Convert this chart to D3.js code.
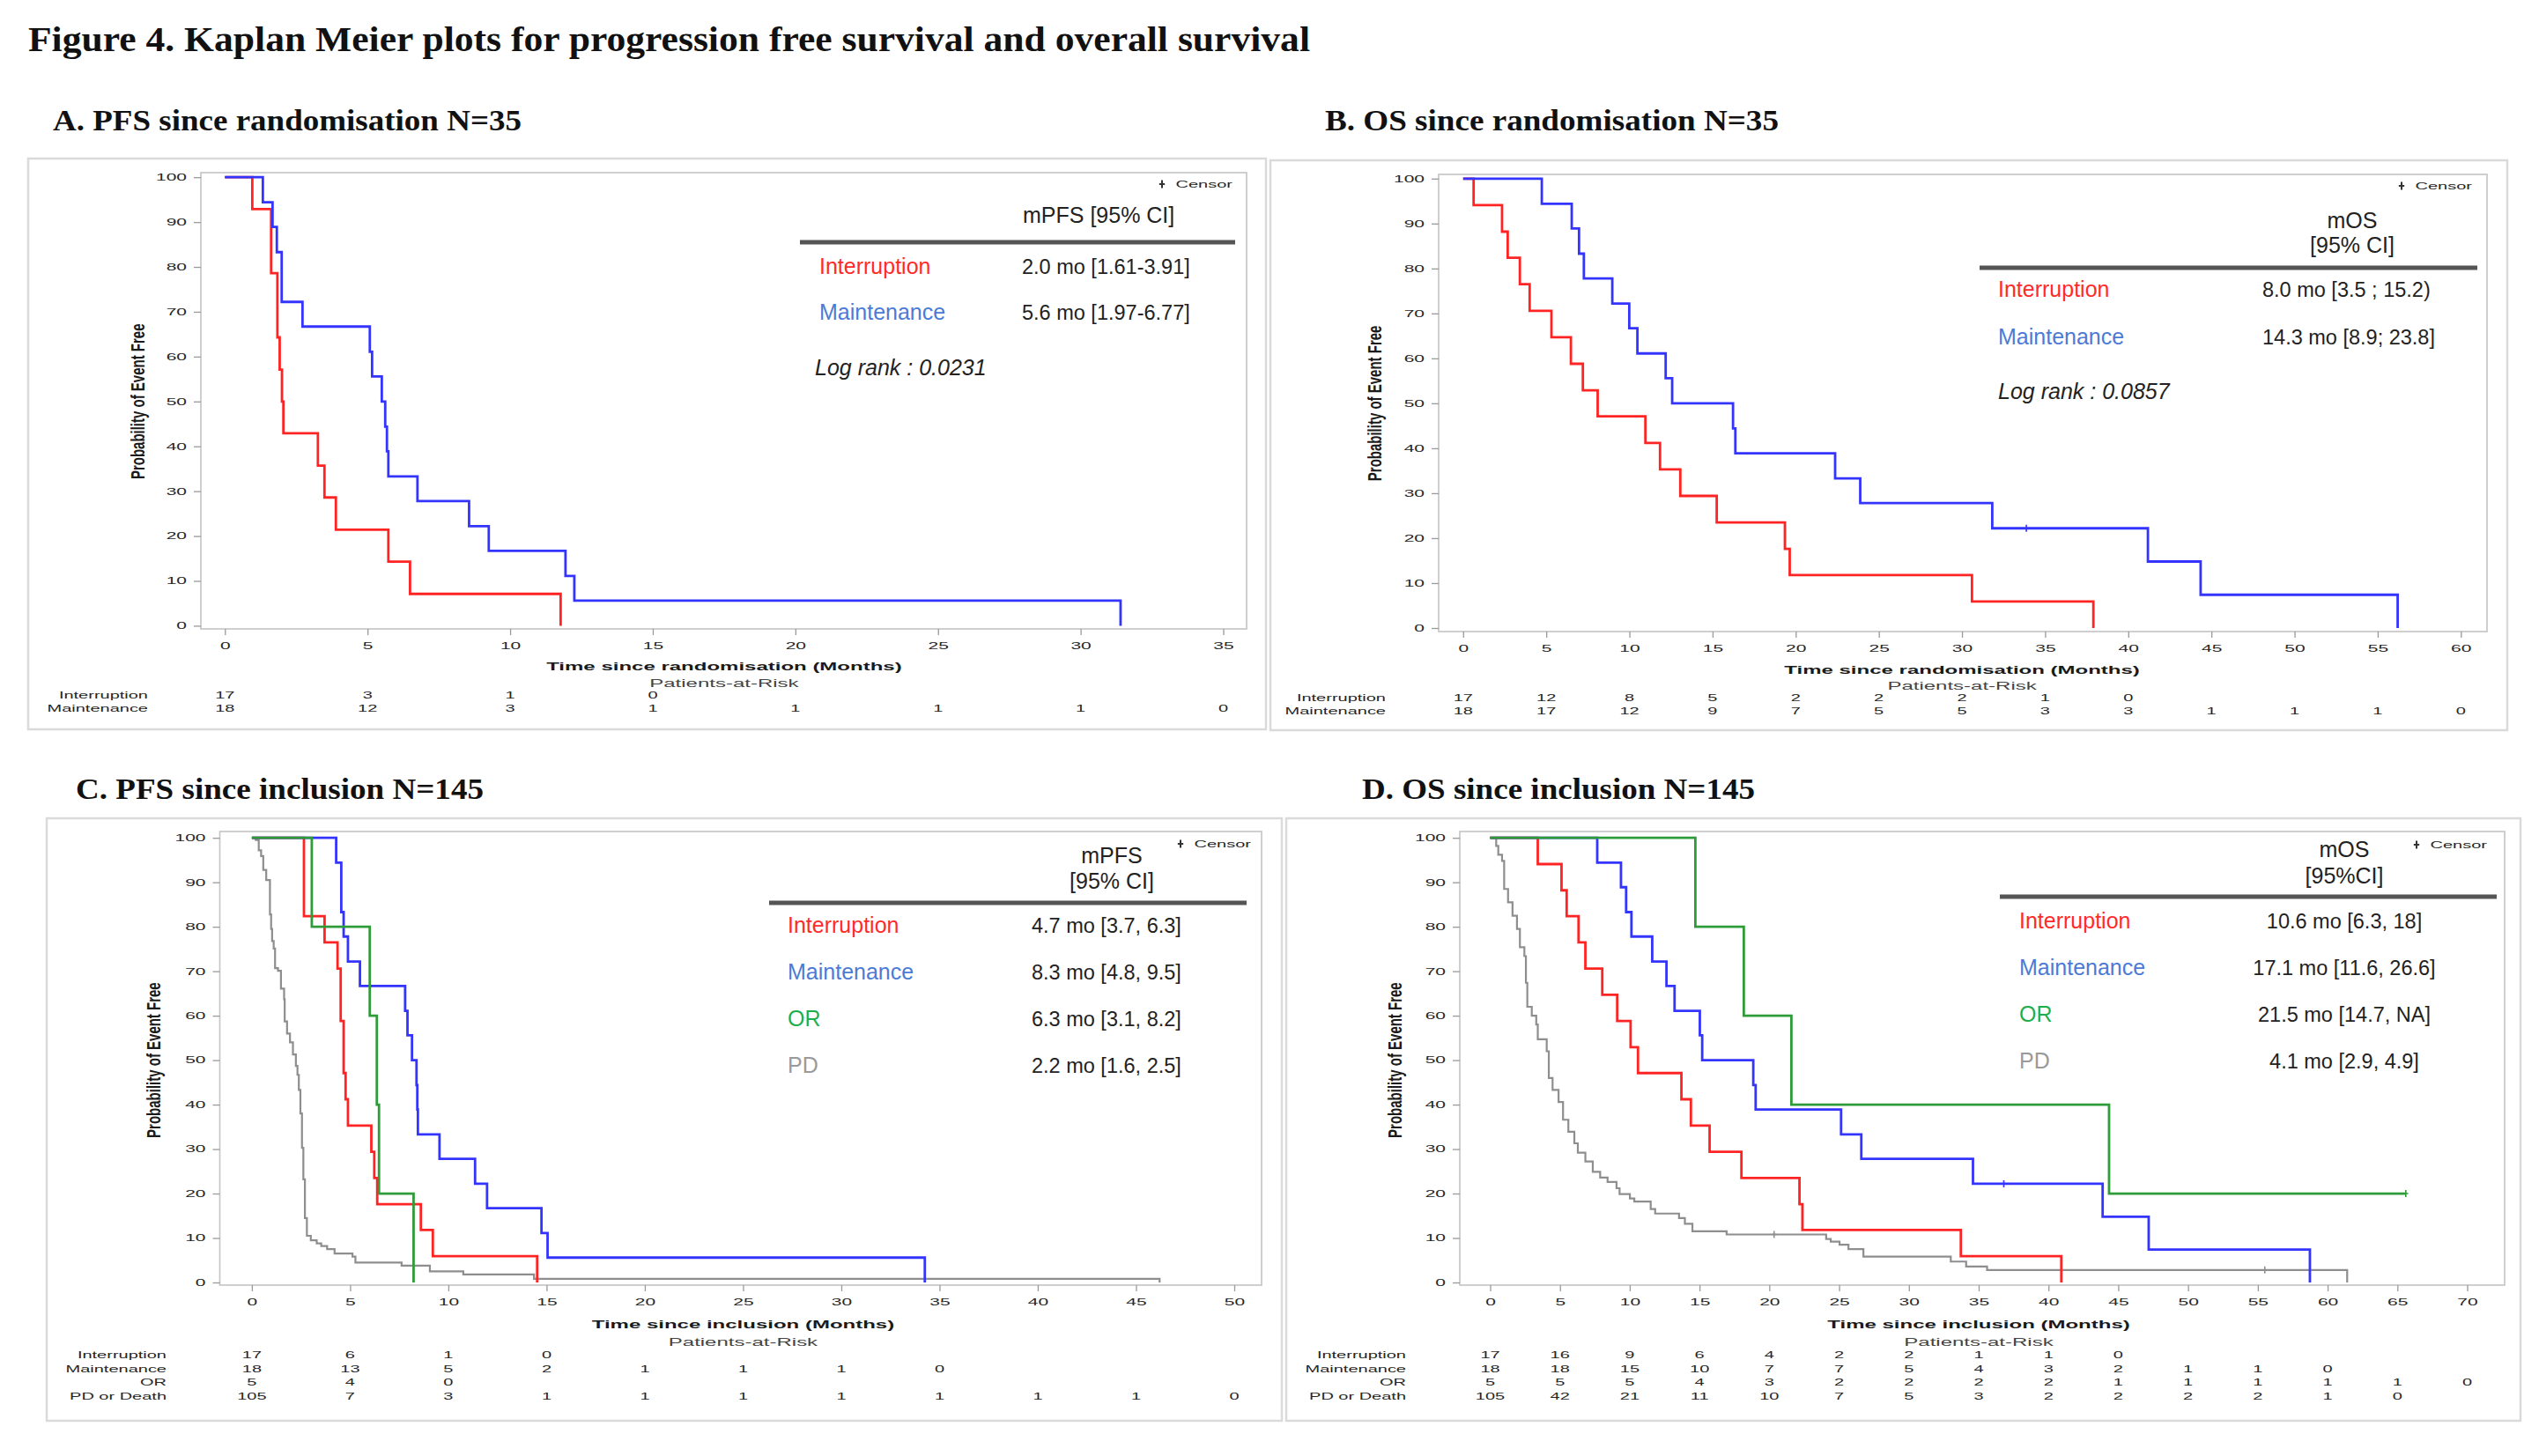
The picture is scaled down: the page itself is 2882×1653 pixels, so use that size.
<!DOCTYPE html>
<html>
<head>
<meta charset="utf-8">
<script src="https://cdn.jsdelivr.net/npm/d3@7"></script>
<style>
  html, body { margin: 0; padding: 0; background: #fff; }
  svg { display: block; }
</style>
</head>
<body>
<svg id="fig" width="2882" height="1653"></svg>
<script>
// ---------- data ----------
const yTicks = [0, 10, 20, 30, 40, 50, 60, 70, 80, 90, 100];
const xTicksA = [0, 5, 10, 15, 20, 25, 30, 35];
const xTicksB = [0, 5, 10, 15, 20, 25, 30, 35, 40, 45, 50, 55, 60];
const xTicksC = [0, 5, 10, 15, 20, 25, 30, 35, 40, 45, 50];
const xTicksD = [0, 5, 10, 15, 20, 25, 30, 35, 40, 45, 50, 55, 60, 65, 70];

const groups2 = ['Interruption', 'Maintenance'];
const groups4 = ['Interruption', 'Maintenance', 'OR', 'PD'];
const riskNames4 = ['Interruption', 'Maintenance', 'OR', 'PD or Death'];

// [month, survival %] at each drop
const pfsRandInt = [[0,100],[0.96,92.9],[1.62,78.6],[1.84,64.3],[1.92,57.1],[2.0,50],[2.05,42.9],[3.26,35.7],[3.49,28.6],[3.89,21.4],[5.73,14.3],[6.49,7.1],[11.77,0]];
const pfsRandMaint = [[0,100],[1.33,94.4],[1.67,88.9],[1.82,83.3],[1.99,72.2],[2.72,66.7],[5.08,61.1],[5.16,55.6],[5.5,50],[5.62,44.4],[5.68,38.9],[5.73,33.3],[6.75,27.8],[8.56,22.2],[9.25,16.7],[11.94,11.1],[12.25,5.6],[31.4,0]];

const osRandInt = [[0,100],[0.63,94.1],[2.34,88.2],[2.68,82.4],[3.41,76.5],[4.0,70.6],[5.31,64.7],[6.48,58.8],[7.2,52.9],[8.09,47.1],[10.96,41.2],[11.84,35.3],[13.06,29.4],[15.25,23.5],[19.35,17.6],[19.64,11.8],[30.6,5.9],[37.9,0]];
const osRandMaint = [[0,100],[4.73,94.4],[6.53,88.9],[6.97,83.3],[7.26,77.8],[8.97,72.2],[9.99,66.7],[10.48,61.1],[12.18,55.6],[12.57,50],[16.23,44.4],[16.37,38.9],[22.37,33.3],[23.88,27.8],[31.82,22.2],[41.18,14.8],[44.35,7.4],[56.2,0]];
const osRandMaintCens = [[33.87,22.2]];

const pfsInclInt = [[0,100],[2.65,82.4],[3.7,76.5],[4.36,70.6],[4.52,58.8],[4.67,47.1],[4.77,41.2],[4.89,35.3],[6.08,29.4],[6.23,23.5],[6.38,17.6],[8.6,11.8],[9.21,5.9],[14.52,0]];
const pfsInclMaint = [[0,100],[4.29,94.4],[4.55,83.3],[4.67,77.8],[4.89,72.2],[5.5,66.7],[7.8,61.1],[7.92,55.6],[8.15,50],[8.38,44.4],[8.42,38.9],[8.45,33.3],[9.55,27.8],[11.36,22.2],[11.97,16.7],[14.74,11.1],[15.05,5.6],[34.25,0]];
const pfsInclOR = [[0,100],[3.05,80],[6.0,60],[6.36,40],[6.47,20],[8.23,0]];
const pfsInclPD = [[0,100],[0.2,99.5],[0.35,97.2],[0.47,95.9],[0.58,92.8],[0.73,90.5],[0.92,82.8],[0.98,79.5],[1.03,76.8],[1.11,75.1],[1.18,70.7],[1.33,70.1],[1.48,66.1],[1.64,63.7],[1.67,58.7],[1.79,56.0],[1.94,54.0],[2.09,51.3],[2.24,48.7],[2.32,46.7],[2.39,43.3],[2.47,38.0],[2.55,30.3],[2.62,23.2],[2.7,14.5],[2.8,10.5],[3.0,9.5],[3.3,8.8],[3.53,8.2],[3.83,7.5],[4.21,6.5],[5.12,5.8],[5.27,4.5],[7.62,3.8],[9.06,2.5],[10.76,1.8],[14.36,0.8],[46.2,0]];

const osInclInt = [[0,100],[3.41,94.1],[5.11,88.2],[5.48,82.4],[6.33,76.5],[6.82,70.6],[8.03,64.7],[9.1,58.8],[10.06,52.9],[10.59,47.1],[13.7,41.2],[14.38,35.3],[15.72,29.4],[18.0,23.5],[22.16,17.6],[22.37,11.8],[33.72,5.9],[40.92,0]];
const osInclMaint = [[0,100],[7.67,94.4],[9.37,88.9],[9.74,83.3],[10.12,77.8],[11.61,72.2],[12.63,66.7],[13.21,61.1],[15.02,55.6],[15.19,50],[18.85,44.4],[19.02,38.9],[25.14,33.3],[26.59,27.8],[34.59,22.2],[43.88,14.8],[47.18,7.4],[58.73,0]];
const osInclMaintCens = [[36.8,22.2]];
const osInclOR = [[0,100],[14.7,80],[18.17,60],[21.58,40],[44.34,20],[65.6,20]];
const osInclORCens = [[65.6,20]];
const osInclPD = [[0,100],[0.43,98.2],[0.58,96.2],[0.85,94.8],[1.0,88.5],[1.28,85.5],[1.6,82.5],[1.92,79.5],[2.13,75.4],[2.45,73.4],[2.56,67.4],[2.66,62.0],[2.98,60.0],[3.3,58.0],[3.41,54.7],[4.05,52.0],[4.2,46.0],[4.47,43.3],[4.9,40.6],[5.22,36.6],[5.6,33.9],[6.03,31.3],[6.28,29.2],[6.82,27.2],[7.35,24.9],[7.88,23.6],[8.41,22.6],[9.05,21.2],[9.27,19.9],[10.01,18.9],[10.33,18.2],[11.5,16.5],[11.82,15.5],[13.53,14.5],[13.95,13.2],[14.49,11.5],[16.94,10.8],[24.07,9.8],[24.4,9.2],[25.03,8.5],[25.67,7.5],[26.74,5.8],[33.0,4.7],[34.1,3.6],[35.6,2.8],[61.4,0]];
const osInclPDCens = [[20.34,10.8],[55.5,2.8]];

// patients at risk, one value per x tick
const riskPfsRandInt = [17, 3, 1, 0];
const riskPfsRandMaint = [18, 12, 3, 1, 1, 1, 1, 0];
const riskOsRandInt = [17, 12, 8, 5, 2, 2, 2, 1, 0];
const riskOsRandMaint = [18, 17, 12, 9, 7, 5, 5, 3, 3, 1, 1, 1, 0];
const riskPfsInclInt = [17, 6, 1, 0];
const riskPfsInclMaint = [18, 13, 5, 2, 1, 1, 1, 0];
const riskPfsInclOR = [5, 4, 0];
const riskPfsInclPD = [105, 7, 3, 1, 1, 1, 1, 1, 1, 1, 0];
const riskOsInclInt = [17, 16, 9, 6, 4, 2, 2, 1, 1, 0];
const riskOsInclMaint = [18, 18, 15, 10, 7, 7, 5, 4, 3, 2, 1, 1, 0];
const riskOsInclOR = [5, 5, 5, 4, 3, 2, 2, 2, 2, 1, 1, 1, 1, 1, 0];
const riskOsInclPD = [105, 42, 21, 11, 10, 7, 5, 3, 2, 2, 2, 2, 1, 0];

// medians shown in the inset tables
const medPfsRand = ['2.0 mo [1.61-3.91]', '5.6 mo [1.97-6.77]'];
const medOsRand = ['8.0 mo [3.5 ; 15.2)', '14.3 mo [8.9; 23.8]'];
const medPfsIncl = ['4.7 mo [3.7, 6.3]', '8.3 mo [4.8, 9.5]', '6.3 mo [3.1, 8.2]', '2.2 mo [1.6, 2.5]'];
const medOsIncl = ['10.6 mo [6.3, 18]', '17.1 mo [11.6, 26.6]', '21.5 mo [14.7, NA]', '4.1 mo [2.9, 4.9]'];

// ---------- styling ----------
const SX = 2.0;   // SAS text in the source image is stretched sideways
const SANS = 'Arial, "Liberation Sans", Helvetica, sans-serif';
const SERIF = '"Times New Roman", "Liberation Serif", serif';
const RED = '#ff2424', BLUE = '#3434ff', GREEN = '#2f9c3a', GRAY = '#8e8e8e';
const labelColor = { 'Interruption': '#ff2a2a', 'Maintenance': '#4b7bd6', 'OR': '#1fae4c', 'PD': '#9a9a9a' };

const svg = d3.select('#fig');

// text drawn with the horizontal stretch
function sas(g, x, y, str, o) {
  return g.append('text')
    .attr('transform', `translate(${x},${y}) scale(${o.sx || SX},1)`)
    .attr('text-anchor', o.anchor || 'start')
    .style('font-family', SANS)
    .style('font-size', o.size + 'px')
    .style('font-weight', o.weight || 'normal')
    .attr('fill', o.fill || '#262626')
    .text(str);
}

function plus(g, x, y, color, s, w) {
  g.append('path')
    .attr('d', `M${x - s * 0.7},${y}H${x + s * 0.7}M${x},${y - s}V${y + s}`)
    .attr('stroke', color).attr('stroke-width', w || 1.6).attr('fill', 'none');
}

function serifTitle(str, x, y, size, w) {
  svg.append('text')
    .attr('x', x).attr('y', y)
    .attr('textLength', w).attr('lengthAdjust', 'spacingAndGlyphs')
    .style('font-family', SERIF).style('font-weight', 'bold')
    .style('font-size', size + 'px').attr('fill', '#111')
    .text(str);
}

// ---------- panels ----------
const panels = [
  {
    title: 'A. PFS since randomisation N=35', titlePos: [60, 148, 532],
    box: [32, 180, 1437, 828], frame: [228, 196, 1415, 714],
    xRange: [255.3, 1388.5], yRange: [710.4, 201.2], xTicks: xTicksA,
    xLabel: 'Time since randomisation (Months)',
    series: [{ pts: pfsRandInt, color: RED }, { pts: pfsRandMaint, color: BLUE }],
    cens: [],
    risk: [riskPfsRandInt, riskPfsRandMaint], riskNames: groups2,
    riskLabelX: 168, offs: [47, 66, 79], riskGap: 15, yLabelX: 156,
    legend: {
      censor: [1399, 213], head: [['mPFS  [95% CI]', 1161, 253, 'start']], rule: [908, 1402, 275],
      labelX: 930, valueX: 1160, valueAnchor: 'start', rowY: [311, 363],
      names: groups2, values: medPfsRand, logrank: ['Log rank : 0.0231', 925, 426]
    }
  },
  {
    title: 'B. OS since randomisation N=35', titlePos: [1504, 148, 515],
    box: [1442, 182, 2846, 829], frame: [1633, 198, 2823, 717],
    xRange: [1660.8, 2793.3], yRange: [713, 202.8], xTicks: xTicksB,
    xLabel: 'Time since randomisation (Months)',
    series: [{ pts: osRandInt, color: RED }, { pts: osRandMaint, color: BLUE }],
    cens: [{ pts: osRandMaintCens, color: BLUE }],
    risk: [riskOsRandInt, riskOsRandMaint], riskNames: groups2,
    riskLabelX: 1573, offs: [48, 66, 79], riskGap: 15, yLabelX: 1560,
    legend: {
      censor: [2806, 215], head: [['mOS', 2670, 259, 'middle'], ['[95% CI]', 2670, 287, 'middle']],
      rule: [2247, 2812, 304], labelX: 2268, valueX: 2568, valueAnchor: 'start', rowY: [337, 391],
      names: groups2, values: medOsRand, logrank: ['Log rank : 0.0857', 2268, 453]
    }
  },
  {
    title: 'C. PFS since inclusion N=145', titlePos: [86, 907, 463],
    box: [53, 929, 1455, 1613], frame: [249.5, 944, 1432, 1459],
    xRange: [285.9, 1401], yRange: [1456, 951.2], xTicks: xTicksC,
    xLabel: 'Time since inclusion (Months)',
    series: [{ pts: pfsInclPD, color: GRAY, w: 2.2 }, { pts: pfsInclInt, color: RED },
             { pts: pfsInclMaint, color: BLUE }, { pts: pfsInclOR, color: GREEN }],
    cens: [],
    risk: [riskPfsInclInt, riskPfsInclMaint, riskPfsInclOR, riskPfsInclPD], riskNames: riskNames4,
    riskLabelX: 189, offs: [49, 69, 83], riskGap: 15.7, yLabelX: 174,
    legend: {
      censor: [1420, 962], head: [['mPFS', 1262, 980, 'middle'], ['[95% CI]', 1262, 1009, 'middle']],
      rule: [873, 1415, 1025], labelX: 894, valueX: 1171, valueAnchor: 'start', rowY: [1059, 1112, 1165, 1218],
      names: groups4, values: medPfsIncl
    }
  },
  {
    title: 'D. OS since inclusion N=145', titlePos: [1546, 907, 446],
    box: [1460, 929, 2861, 1613], frame: [1657, 944, 2843, 1459],
    xRange: [1691.5, 2800.5], yRange: [1456, 951.2], xTicks: xTicksD,
    xLabel: 'Time since inclusion (Months)',
    series: [{ pts: osInclPD, color: GRAY, w: 2.2 }, { pts: osInclInt, color: RED },
             { pts: osInclMaint, color: BLUE }, { pts: osInclOR, color: GREEN }],
    cens: [{ pts: osInclPDCens, color: GRAY }, { pts: osInclMaintCens, color: BLUE }, { pts: osInclORCens, color: GREEN }],
    risk: [riskOsInclInt, riskOsInclMaint, riskOsInclOR, riskOsInclPD], riskNames: riskNames4,
    riskLabelX: 1596, offs: [49, 69, 83], riskGap: 15.7, yLabelX: 1583,
    legend: {
      censor: [2823, 963], head: [['mOS', 2661, 973, 'middle'], ['[95%CI]', 2661, 1003, 'middle']],
      rule: [2270, 2834, 1018], labelX: 2292, valueX: 2661, valueAnchor: 'middle', rowY: [1054, 1107, 1160, 1213],
      names: groups4, values: medOsIncl
    }
  }
];

serifTitle('Figure 4. Kaplan Meier plots for progression free survival and overall survival', 32, 58, 40, 1455);

panels.forEach(p => {
  const g = svg.append('g');
  const [bx0, by0, bx1, by1] = p.box;
  const [fx0, fy0, fx1, fy1] = p.frame;

  serifTitle(p.title, p.titlePos[0], p.titlePos[1], 33, p.titlePos[2]);

  g.append('rect').attr('x', bx0).attr('y', by0).attr('width', bx1 - bx0).attr('height', by1 - by0)
    .attr('fill', '#fff').attr('stroke', '#dadada').attr('stroke-width', 2.5);
  g.append('rect').attr('x', fx0).attr('y', fy0).attr('width', fx1 - fx0).attr('height', fy1 - fy0)
    .attr('fill', 'none').attr('stroke', '#c4c4c4').attr('stroke-width', 1.6);

  const xMax = p.xTicks[p.xTicks.length - 1];
  const x = d3.scaleLinear().domain([0, xMax]).range(p.xRange);
  const y = d3.scaleLinear().domain([0, 100]).range(p.yRange);

  // axes
  const ya = g.append('g').attr('transform', `translate(${fx0},0)`)
    .call(d3.axisLeft(y).tickValues(yTicks).tickSize(8));
  const xa = g.append('g').attr('transform', `translate(0,${fy1})`)
    .call(d3.axisBottom(x).tickValues(p.xTicks).tickSize(7));
  [ya, xa].forEach(a => {
    a.select('.domain').remove();
    a.selectAll('.tick line').attr('stroke', '#9a9a9a').attr('stroke-width', 1.3);
    a.selectAll('.tick text').style('font-family', SANS).style('font-size', '10.5px').attr('fill', '#262626');
  });
  ya.selectAll('.tick text').attr('x', -16 / SX).attr('transform', `scale(${SX},1)`);
  xa.selectAll('.tick text').attr('y', 15.5).attr('transform', `scale(${SX},1)`);

  // axis titles
  const xMid = (p.xRange[0] + p.xRange[1]) / 2;
  sas(g, xMid, fy1 + p.offs[0], p.xLabel, { size: 12, weight: 'bold', anchor: 'middle', fill: '#1a1a1a' });
  sas(g, xMid, fy1 + p.offs[1], 'Patients-at-Risk', { size: 12, anchor: 'middle', fill: '#444' });
  g.append('text')
    .attr('transform', `translate(${p.yLabelX},${(p.yRange[0] + p.yRange[1]) / 2}) scale(1.45,1) rotate(-90)`)
    .attr('text-anchor', 'middle').attr('dy', '0.35em')
    .style('font-family', SANS).style('font-size', '15px').style('font-weight', 'bold')
    .attr('fill', '#1a1a1a').text('Probability of Event Free');

  // survival curves
  const line = d3.line().x(d => x(d[0])).y(d => y(d[1])).curve(d3.curveStepAfter);
  p.series.forEach(s => {
    g.append('path').datum(s.pts).attr('d', line)
      .attr('fill', 'none').attr('stroke', s.color).attr('stroke-width', s.w || 2.8)
      .attr('stroke-linejoin', 'miter');
  });
  p.cens.forEach(c => c.pts.forEach(d => plus(g, x(d[0]), y(d[1]), c.color, 4)));

  // patients at risk table
  p.risk.forEach((row, i) => {
    const ry = fy1 + p.offs[2] + i * p.riskGap;
    sas(g, p.riskLabelX, ry, p.riskNames[i], { size: 10, anchor: 'end' });
    row.forEach((v, j) => sas(g, x(p.xTicks[j]), ry, String(v), { size: 10, anchor: 'middle' }));
  });

  // inset table
  const L = p.legend;
  sas(g, L.censor[0], L.censor[1], 'Censor', { size: 10, anchor: 'end' });
  plus(g, L.censor[0] - 80, L.censor[1] - 4, '#333', 4.5, 2);
  L.head.forEach(h => g.append('text').attr('x', h[1]).attr('y', h[2]).attr('text-anchor', h[3])
    .style('font-family', SANS).style('font-size', '25px').attr('fill', '#222').text(h[0]));
  g.append('line').attr('x1', L.rule[0]).attr('x2', L.rule[1]).attr('y1', L.rule[2]).attr('y2', L.rule[2])
    .attr('stroke', '#555').attr('stroke-width', 5);
  L.names.forEach((n, i) => {
    g.append('text').attr('x', L.labelX).attr('y', L.rowY[i])
      .style('font-family', SANS).style('font-size', '25px').attr('fill', labelColor[n]).text(n);
    g.append('text').attr('x', L.valueX).attr('y', L.rowY[i]).attr('text-anchor', L.valueAnchor)
      .style('font-family', SANS).style('font-size', '23.5px').attr('fill', '#222').text(L.values[i]);
  });
  if (L.logrank) {
    g.append('text').attr('x', L.logrank[1]).attr('y', L.logrank[2])
      .style('font-family', SANS).style('font-size', '25px').style('font-style', 'italic')
      .attr('fill', '#222').text(L.logrank[0]);
  }
});
</script>
</body>
</html>
